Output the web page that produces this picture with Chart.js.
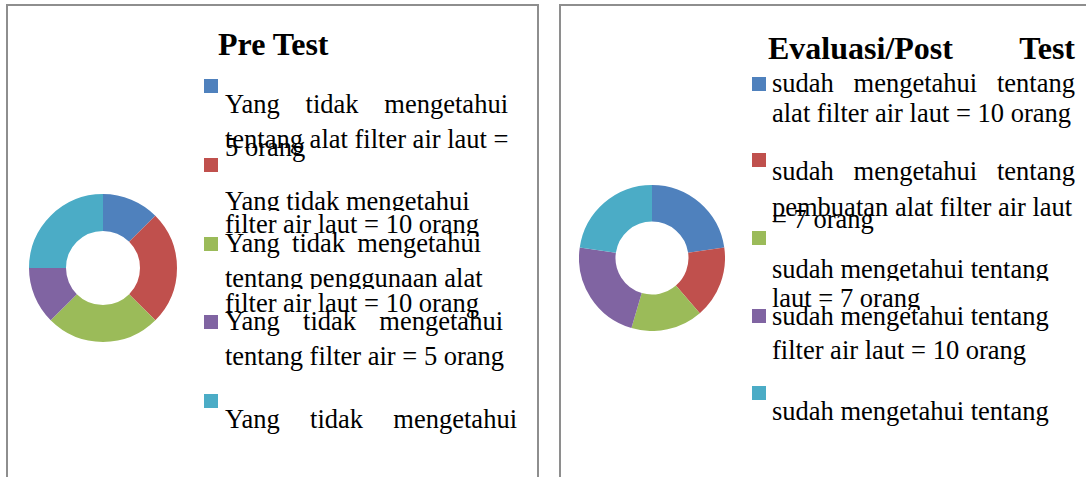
<!DOCTYPE html>
<html>
<head>
<meta charset="utf-8">
<script src="https://cdn.jsdelivr.net/npm/chart.js@4.4.1/dist/chart.umd.min.js"></script>
<style>
    html, body { margin: 0; padding: 0; background: #fff; }
    body { width: 1086px; height: 477px; position: relative; overflow: hidden; }
    .panel { position: absolute; border: 2px solid #8e8e8e; box-sizing: border-box; background: #fff; }
    .donut { position: absolute; }
    .txt { position: absolute; color: #000; font-family: "Liberation Serif", "Times New Roman", serif; }
    .box { position: absolute; width: 14px; height: 14px; }
</style>
</head>
<body>
<div class="panel" style="left:6px; top:4px; width:533px; height:490px;"></div>
<div class="panel" style="left:559px; top:4px; width:540px; height:490px;"></div>
<canvas id="preChart" class="donut" width="148" height="148" style="left:29px; top:194px;"></canvas>
<canvas id="postChart" class="donut" width="146" height="146" style="left:579px; top:185px;"></canvas>
<script>
/* two doughnut charts: knowledge before and after the session */

// chart titles
const preTitle = 'Pre Test';
const postTitle = 'Evaluasi/Post Test';

// legend lines as they show in the picture, one array per slice
const preLegendLines = [
    ['Yang tidak mengetahui', 'tentang alat filter air laut =', '5 orang'],
    ['Yang tidak mengetahui', 'filter air laut = 10 orang'],
    ['Yang tidak mengetahui', 'tentang penggunaan alat', 'filter air laut = 10 orang'],
    ['Yang tidak mengetahui', 'tentang filter air = 5 orang'],
    ['Yang tidak mengetahui']
];
const postLegendLines = [
    ['sudah mengetahui tentang', 'alat filter air laut = 10 orang'],
    ['sudah mengetahui tentang', 'pembuatan alat filter air laut', '= 7 orang'],
    ['sudah mengetahui tentang', 'laut = 7 orang'],
    ['sudah mengetahui tentang', 'filter air laut = 10 orang'],
    ['sudah mengetahui tentang']
];

// number of people for each slice
const preValues = [5, 10, 10, 5, 10];
const postValues = [10, 7, 7, 10, 10];

// office style slice colours
const sliceColors = ['#4F81BD', '#C0504D', '#9BBB59', '#8064A2', '#4BACC6'];

// where each legend item sits (box and text line baselines)
const preLegendLayout = {
    boxX: 204, textX: 225,
    boxY: [79, 158, 237, 315, 394],
    lines: [
        [{ y: 113, right: 508 }, { y: 148 }, { y: 156 }],
        [{ y: 210, clip: 211 }, { y: 233, clip: 236 }],
        [{ y: 252, right: 481 }, { y: 287, clip: 289 }, { y: 312 }],
        [{ y: 330, right: 503 }, { y: 365 }],
        [{ y: 428, right: 517 }]
    ]
};
const postLegendLayout = {
    boxX: 752, textX: 772,
    boxY: [77, 153, 231, 309, 386],
    lines: [
        [{ y: 92, right: 1075 }, { y: 122 }],
        [{ y: 180, right: 1075 }, { y: 216 }, { y: 228 }],
        [{ y: 278, clip: 281 }, { y: 307, clip: 310 }],
        [{ y: 325 }, { y: 359 }],
        [{ y: 420 }]
    ]
};

const legendSize = 26.5;
const titleSize = 32;

// puts one line of text so that its baseline lands on y
const placeLine = (text, x, baseline, size, opts) => {
    const el = document.createElement('div');
    const ascent = 0.891;
    const descent = 0.216;
    const top = baseline - ((size - (ascent + descent) * size) / 2 + ascent * size);

    el.className = 'txt';
    el.textContent = text;
    el.style.left = x + 'px';
    el.style.top = top + 'px';
    el.style.fontSize = size + 'px';
    el.style.lineHeight = size + 'px';
    el.style.fontWeight = opts.bold ? 'bold' : 'normal';

    if (opts.right) {
        el.style.width = (opts.right - x) + 'px';
        el.style.textAlign = 'justify';
        el.style.textAlignLast = 'justify';
    } else {
        el.style.whiteSpace = 'nowrap';
    }

    if (opts.clip) {
        el.style.height = (opts.clip - top) + 'px';
        el.style.overflow = 'hidden';
    }

    document.body.appendChild(el);
};

/* draws the coloured boxes and text lines of one legend */
const drawLegend = (lines, layout) => {
    lines.forEach((itemLines, i) => {
        const box = document.createElement('div');
        box.className = 'box';
        box.style.left = layout.boxX + 'px';
        box.style.top = layout.boxY[i] + 'px';
        box.style.background = sliceColors[i];
        document.body.appendChild(box);

        itemLines.forEach((line, j) => {
            const pos = layout.lines[i][j];
            placeLine(line, layout.textX, pos.y, legendSize, { right: pos.right, clip: pos.clip });
        });
    });
};

/* builds one doughnut chart */
const makeDonut = (canvasId, lines, values) => new Chart(document.getElementById(canvasId), {
    type: 'doughnut',
    data: {
        labels: lines.map((l) => l.join(' ')),
        datasets: [{
            data: values,
            backgroundColor: sliceColors,
            borderWidth: 0,
            hoverOffset: 0
        }]
    },
    options: {
        responsive: false,
        animation: false,
        cutout: '50%',
        layout: { padding: 0 },
        plugins: {
            legend: { display: false },
            tooltip: { enabled: false },
            title: { display: false }
        }
    }
});

makeDonut('preChart', preLegendLines, preValues);
makeDonut('postChart', postLegendLines, postValues);

placeLine(preTitle, 218, 55, titleSize, { bold: true });
placeLine(postTitle, 768, 59, titleSize, { bold: true, right: 1075 });

drawLegend(preLegendLines, preLegendLayout);
drawLegend(postLegendLines, postLegendLayout);
</script>
</body>
</html>
